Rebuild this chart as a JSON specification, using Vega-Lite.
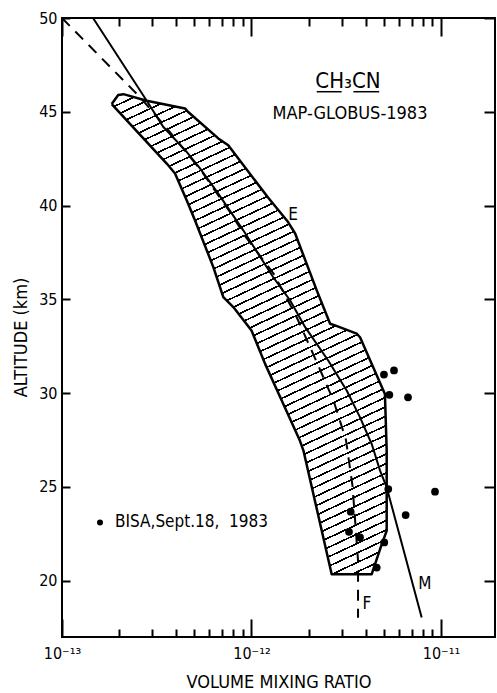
{
"$schema": "https://vega.github.io/schema/vega-lite/v6.json",
"width": 433,
"height": 619,
"autosize": "none",
"padding": {"left": 62, "top": 18, "right": 2, "bottom": 56},
"background": "white",
"config": {"view": {"stroke": "black", "strokeWidth": 2}},
"datasets": {
"band": [
{"order":1,"vmr":1.83e-13,"alt":45.41},{"order":2,"vmr":1.98e-13,"alt":45.89},{"order":3,"vmr":2.11e-13,"alt":45.94},{"order":4,"vmr":2.80e-13,"alt":45.59},{"order":5,"vmr":4.46e-13,"alt":45.18},{"order":6,"vmr":4.62e-13,"alt":45.00},{"order":7,"vmr":6.68e-13,"alt":43.58},{"order":8,"vmr":7.54e-13,"alt":43.22},{"order":9,"vmr":1.22e-12,"alt":40.44},{"order":10,"vmr":1.56e-12,"alt":39.12},{"order":11,"vmr":1.70e-12,"alt":38.51},{"order":12,"vmr":2.21e-12,"alt":35.48},{"order":13,"vmr":2.60e-12,"alt":33.70},{"order":14,"vmr":2.76e-12,"alt":33.61},{"order":15,"vmr":3.59e-12,"alt":33.17},{"order":16,"vmr":3.74e-12,"alt":32.98},{"order":17,"vmr":5.06e-12,"alt":29.96},{"order":18,"vmr":5.17e-12,"alt":26.94},{"order":19,"vmr":5.17e-12,"alt":22.66},{"order":20,"vmr":4.87e-12,"alt":21.95},{"order":21,"vmr":4.31e-12,"alt":20.35},{"order":22,"vmr":2.65e-12,"alt":20.35},{"order":23,"vmr":1.88e-12,"alt":26.94},{"order":24,"vmr":1.80e-12,"alt":27.47},{"order":25,"vmr":1.47e-12,"alt":29.43},{"order":26,"vmr":1.18e-12,"alt":31.56},{"order":27,"vmr":1.00e-12,"alt":33.34},{"order":28,"vmr":8.02e-13,"alt":34.59},{"order":29,"vmr":7.10e-13,"alt":35.12},{"order":30,"vmr":6.29e-13,"alt":36.72},{"order":31,"vmr":5.03e-13,"alt":39.22},{"order":32,"vmr":4.55e-13,"alt":40.28},{"order":33,"vmr":3.95e-13,"alt":41.71},{"order":34,"vmr":3.57e-13,"alt":42.24},{"order":35,"vmr":1.83e-13,"alt":45.41}
],
"model": [
{"order":1,"vmr":1.458e-13,"alt":50},{"order":2,"vmr":2.80e-13,"alt":45.59},{"order":3,"vmr":3.42e-13,"alt":44.20},{"order":4,"vmr":4.55e-13,"alt":42.86},{"order":5,"vmr":5.35e-13,"alt":41.98},{"order":6,"vmr":6.68e-13,"alt":40.64},{"order":7,"vmr":9.05e-13,"alt":38.68},{"order":8,"vmr":1.30e-12,"alt":36.19},{"order":9,"vmr":1.60e-12,"alt":34.94},{"order":10,"vmr":1.92e-12,"alt":33.52},{"order":11,"vmr":2.54e-12,"alt":31.74},{"order":12,"vmr":3.18e-12,"alt":30.14},{"order":13,"vmr":3.74e-12,"alt":28.71},{"order":14,"vmr":4.31e-12,"alt":27.29},{"order":15,"vmr":4.77e-12,"alt":25.87},{"order":16,"vmr":5.17e-12,"alt":24.98},{"order":17,"vmr":7.91e-12,"alt":18.04}
],
"fit": [
{"order":1,"vmr":1.0e-13,"alt":50},{"order":2,"vmr":2.58e-13,"alt":45.78},{"order":3,"vmr":3.57e-13,"alt":44.13},{"order":4,"vmr":5.45e-13,"alt":41.83},{"order":5,"vmr":7.84e-13,"alt":39.54},{"order":6,"vmr":9.19e-13,"alt":38.41},{"order":7,"vmr":1.31e-12,"alt":36.36},{"order":8,"vmr":1.73e-12,"alt":34.06},{"order":9,"vmr":2.18e-12,"alt":31.79},{"order":10,"vmr":2.71e-12,"alt":29.60},{"order":11,"vmr":3.15e-12,"alt":27.52},{"order":12,"vmr":3.41e-12,"alt":25.09},{"order":13,"vmr":3.56e-12,"alt":22.61},{"order":14,"vmr":3.65e-12,"alt":21.06},{"order":15,"vmr":3.65e-12,"alt":18.02}
],
"bisa": [
{"vmr":5.00e-12,"alt":30.99},{"vmr":5.65e-12,"alt":31.21},{"vmr":5.34e-12,"alt":29.91},{"vmr":6.70e-12,"alt":29.78},{"vmr":5.27e-12,"alt":24.89},{"vmr":9.30e-12,"alt":24.75},{"vmr":6.51e-12,"alt":23.50},{"vmr":3.34e-12,"alt":23.68},{"vmr":3.27e-12,"alt":22.61},{"vmr":3.74e-12,"alt":22.31},{"vmr":5.02e-12,"alt":22.04},{"vmr":4.58e-12,"alt":20.70}
],
"legenddot": [{"vmr":1.587e-13,"alt":23.11}],
"labels": [
{"kind":"title","text":"CH₃CN","vmr":3.23e-12,"alt":46.64},
{"kind":"subtitle","text":"MAP-GLOBUS-1983","vmr":3.31e-12,"alt":44.87},
{"kind":"curve","text":"E","vmr":1.66e-12,"alt":39.48},
{"kind":"curve","text":"M","vmr":8.23e-12,"alt":19.82},
{"kind":"curve","text":"F","vmr":4.06e-12,"alt":18.75},
{"kind":"legend","text":"BISA,Sept.18,\u00a0 1983","vmr":1.905e-13,"alt":23.11}
],
"underline": [{"vmr":2.21e-12,"vmr2":2.99e-12,"alt":46.07},{"vmr":3.45e-12,"vmr2":4.72e-12,"alt":46.07}]
},
"layer": [
{
"data": {"name": "band"},
"mark": {"type": "line", "stroke": "black", "strokeWidth": 2.5, "strokeJoin": "round",
"fill": {"gradient": "linear", "x1": 0, "y1": 0, "x2": 0.3163, "y2": 1.1828, "stops": [
{"offset":0,"color":"#fff"},
{"offset":0.005,"color":"#fff"},{"offset":0.005,"color":"#000"},{"offset":0.008,"color":"#000"},{"offset":0.008,"color":"#fff"},
{"offset":0.0206,"color":"#fff"},{"offset":0.0206,"color":"#000"},{"offset":0.0236,"color":"#000"},{"offset":0.0236,"color":"#fff"},
{"offset":0.0362,"color":"#fff"},{"offset":0.0362,"color":"#000"},{"offset":0.0392,"color":"#000"},{"offset":0.0392,"color":"#fff"},
{"offset":0.0518,"color":"#fff"},{"offset":0.0518,"color":"#000"},{"offset":0.0548,"color":"#000"},{"offset":0.0548,"color":"#fff"},
{"offset":0.0674,"color":"#fff"},{"offset":0.0674,"color":"#000"},{"offset":0.0704,"color":"#000"},{"offset":0.0704,"color":"#fff"},
{"offset":0.083,"color":"#fff"},{"offset":0.083,"color":"#000"},{"offset":0.086,"color":"#000"},{"offset":0.086,"color":"#fff"},
{"offset":0.0986,"color":"#fff"},{"offset":0.0986,"color":"#000"},{"offset":0.1016,"color":"#000"},{"offset":0.1016,"color":"#fff"},
{"offset":0.1142,"color":"#fff"},{"offset":0.1142,"color":"#000"},{"offset":0.1172,"color":"#000"},{"offset":0.1172,"color":"#fff"},
{"offset":0.1298,"color":"#fff"},{"offset":0.1298,"color":"#000"},{"offset":0.1328,"color":"#000"},{"offset":0.1328,"color":"#fff"},
{"offset":0.1454,"color":"#fff"},{"offset":0.1454,"color":"#000"},{"offset":0.1484,"color":"#000"},{"offset":0.1484,"color":"#fff"},
{"offset":0.161,"color":"#fff"},{"offset":0.161,"color":"#000"},{"offset":0.164,"color":"#000"},{"offset":0.164,"color":"#fff"},
{"offset":0.1766,"color":"#fff"},{"offset":0.1766,"color":"#000"},{"offset":0.1796,"color":"#000"},{"offset":0.1796,"color":"#fff"},
{"offset":0.1922,"color":"#fff"},{"offset":0.1922,"color":"#000"},{"offset":0.1952,"color":"#000"},{"offset":0.1952,"color":"#fff"},
{"offset":0.2078,"color":"#fff"},{"offset":0.2078,"color":"#000"},{"offset":0.2108,"color":"#000"},{"offset":0.2108,"color":"#fff"},
{"offset":0.2234,"color":"#fff"},{"offset":0.2234,"color":"#000"},{"offset":0.2264,"color":"#000"},{"offset":0.2264,"color":"#fff"},
{"offset":0.239,"color":"#fff"},{"offset":0.239,"color":"#000"},{"offset":0.242,"color":"#000"},{"offset":0.242,"color":"#fff"},
{"offset":0.2546,"color":"#fff"},{"offset":0.2546,"color":"#000"},{"offset":0.2576,"color":"#000"},{"offset":0.2576,"color":"#fff"},
{"offset":0.2702,"color":"#fff"},{"offset":0.2702,"color":"#000"},{"offset":0.2732,"color":"#000"},{"offset":0.2732,"color":"#fff"},
{"offset":0.2858,"color":"#fff"},{"offset":0.2858,"color":"#000"},{"offset":0.2888,"color":"#000"},{"offset":0.2888,"color":"#fff"},
{"offset":0.3014,"color":"#fff"},{"offset":0.3014,"color":"#000"},{"offset":0.3044,"color":"#000"},{"offset":0.3044,"color":"#fff"},
{"offset":0.317,"color":"#fff"},{"offset":0.317,"color":"#000"},{"offset":0.32,"color":"#000"},{"offset":0.32,"color":"#fff"},
{"offset":0.3326,"color":"#fff"},{"offset":0.3326,"color":"#000"},{"offset":0.3356,"color":"#000"},{"offset":0.3356,"color":"#fff"},
{"offset":0.3482,"color":"#fff"},{"offset":0.3482,"color":"#000"},{"offset":0.3512,"color":"#000"},{"offset":0.3512,"color":"#fff"},
{"offset":0.3638,"color":"#fff"},{"offset":0.3638,"color":"#000"},{"offset":0.3668,"color":"#000"},{"offset":0.3668,"color":"#fff"},
{"offset":0.3794,"color":"#fff"},{"offset":0.3794,"color":"#000"},{"offset":0.3824,"color":"#000"},{"offset":0.3824,"color":"#fff"},
{"offset":0.395,"color":"#fff"},{"offset":0.395,"color":"#000"},{"offset":0.398,"color":"#000"},{"offset":0.398,"color":"#fff"},
{"offset":0.4106,"color":"#fff"},{"offset":0.4106,"color":"#000"},{"offset":0.4136,"color":"#000"},{"offset":0.4136,"color":"#fff"},
{"offset":0.4262,"color":"#fff"},{"offset":0.4262,"color":"#000"},{"offset":0.4292,"color":"#000"},{"offset":0.4292,"color":"#fff"},
{"offset":0.4418,"color":"#fff"},{"offset":0.4418,"color":"#000"},{"offset":0.4448,"color":"#000"},{"offset":0.4448,"color":"#fff"},
{"offset":0.4574,"color":"#fff"},{"offset":0.4574,"color":"#000"},{"offset":0.4604,"color":"#000"},{"offset":0.4604,"color":"#fff"},
{"offset":0.473,"color":"#fff"},{"offset":0.473,"color":"#000"},{"offset":0.476,"color":"#000"},{"offset":0.476,"color":"#fff"},
{"offset":0.4886,"color":"#fff"},{"offset":0.4886,"color":"#000"},{"offset":0.4916,"color":"#000"},{"offset":0.4916,"color":"#fff"},
{"offset":0.5042,"color":"#fff"},{"offset":0.5042,"color":"#000"},{"offset":0.5072,"color":"#000"},{"offset":0.5072,"color":"#fff"},
{"offset":0.5198,"color":"#fff"},{"offset":0.5198,"color":"#000"},{"offset":0.5228,"color":"#000"},{"offset":0.5228,"color":"#fff"},
{"offset":0.5354,"color":"#fff"},{"offset":0.5354,"color":"#000"},{"offset":0.5384,"color":"#000"},{"offset":0.5384,"color":"#fff"},
{"offset":0.551,"color":"#fff"},{"offset":0.551,"color":"#000"},{"offset":0.554,"color":"#000"},{"offset":0.554,"color":"#fff"},
{"offset":0.5666,"color":"#fff"},{"offset":0.5666,"color":"#000"},{"offset":0.5696,"color":"#000"},{"offset":0.5696,"color":"#fff"},
{"offset":0.5822,"color":"#fff"},{"offset":0.5822,"color":"#000"},{"offset":0.5852,"color":"#000"},{"offset":0.5852,"color":"#fff"},
{"offset":0.5978,"color":"#fff"},{"offset":0.5978,"color":"#000"},{"offset":0.6008,"color":"#000"},{"offset":0.6008,"color":"#fff"},
{"offset":0.6134,"color":"#fff"},{"offset":0.6134,"color":"#000"},{"offset":0.6164,"color":"#000"},{"offset":0.6164,"color":"#fff"},
{"offset":0.629,"color":"#fff"},{"offset":0.629,"color":"#000"},{"offset":0.632,"color":"#000"},{"offset":0.632,"color":"#fff"},
{"offset":0.6446,"color":"#fff"},{"offset":0.6446,"color":"#000"},{"offset":0.6476,"color":"#000"},{"offset":0.6476,"color":"#fff"},
{"offset":0.6602,"color":"#fff"},{"offset":0.6602,"color":"#000"},{"offset":0.6632,"color":"#000"},{"offset":0.6632,"color":"#fff"},
{"offset":0.6758,"color":"#fff"},{"offset":0.6758,"color":"#000"},{"offset":0.6788,"color":"#000"},{"offset":0.6788,"color":"#fff"},
{"offset":0.6914,"color":"#fff"},{"offset":0.6914,"color":"#000"},{"offset":0.6944,"color":"#000"},{"offset":0.6944,"color":"#fff"},
{"offset":0.707,"color":"#fff"},{"offset":0.707,"color":"#000"},{"offset":0.71,"color":"#000"},{"offset":0.71,"color":"#fff"},
{"offset":0.7226,"color":"#fff"},{"offset":0.7226,"color":"#000"},{"offset":0.7256,"color":"#000"},{"offset":0.7256,"color":"#fff"},
{"offset":0.7382,"color":"#fff"},{"offset":0.7382,"color":"#000"},{"offset":0.7412,"color":"#000"},{"offset":0.7412,"color":"#fff"},
{"offset":0.7538,"color":"#fff"},{"offset":0.7538,"color":"#000"},{"offset":0.7568,"color":"#000"},{"offset":0.7568,"color":"#fff"},
{"offset":0.7694,"color":"#fff"},{"offset":0.7694,"color":"#000"},{"offset":0.7724,"color":"#000"},{"offset":0.7724,"color":"#fff"},
{"offset":0.785,"color":"#fff"},{"offset":0.785,"color":"#000"},{"offset":0.788,"color":"#000"},{"offset":0.788,"color":"#fff"},
{"offset":0.8006,"color":"#fff"},{"offset":0.8006,"color":"#000"},{"offset":0.8036,"color":"#000"},{"offset":0.8036,"color":"#fff"},
{"offset":0.8162,"color":"#fff"},{"offset":0.8162,"color":"#000"},{"offset":0.8192,"color":"#000"},{"offset":0.8192,"color":"#fff"},
{"offset":0.8318,"color":"#fff"},{"offset":0.8318,"color":"#000"},{"offset":0.8348,"color":"#000"},{"offset":0.8348,"color":"#fff"},
{"offset":0.8474,"color":"#fff"},{"offset":0.8474,"color":"#000"},{"offset":0.8504,"color":"#000"},{"offset":0.8504,"color":"#fff"},
{"offset":0.863,"color":"#fff"},{"offset":0.863,"color":"#000"},{"offset":0.866,"color":"#000"},{"offset":0.866,"color":"#fff"},
{"offset":0.8786,"color":"#fff"},{"offset":0.8786,"color":"#000"},{"offset":0.8816,"color":"#000"},{"offset":0.8816,"color":"#fff"},
{"offset":0.8942,"color":"#fff"},{"offset":0.8942,"color":"#000"},{"offset":0.8972,"color":"#000"},{"offset":0.8972,"color":"#fff"},
{"offset":0.9098,"color":"#fff"},{"offset":0.9098,"color":"#000"},{"offset":0.9128,"color":"#000"},{"offset":0.9128,"color":"#fff"},
{"offset":0.9254,"color":"#fff"},{"offset":0.9254,"color":"#000"},{"offset":0.9284,"color":"#000"},{"offset":0.9284,"color":"#fff"},
{"offset":0.941,"color":"#fff"},{"offset":0.941,"color":"#000"},{"offset":0.944,"color":"#000"},{"offset":0.944,"color":"#fff"},
{"offset":0.9566,"color":"#fff"},{"offset":0.9566,"color":"#000"},{"offset":0.9596,"color":"#000"},{"offset":0.9596,"color":"#fff"},
{"offset":0.9722,"color":"#fff"},{"offset":0.9722,"color":"#000"},{"offset":0.9752,"color":"#000"},{"offset":0.9752,"color":"#fff"},
{"offset":0.9878,"color":"#fff"},{"offset":0.9878,"color":"#000"},{"offset":0.9908,"color":"#000"},{"offset":0.9908,"color":"#fff"},
{"offset":1,"color":"#fff"}
]}},
"encoding": {
"x": {"field": "vmr", "type": "quantitative", "scale": {"type": "log", "domain": [1e-13, 1.928e-11], "nice": false},
"axis": {"orient": "bottom", "ticks": false, "tickSize": 0, "domain": false, "values": [1e-13,1e-12,1e-11],
"labelExpr": "datum.value == 1e-13 ? '10⁻¹³' : (datum.value == 1e-12 ? '10⁻¹²' : '10⁻¹¹')",
"labelFlush": false, "labelOverlap": false, "grid": false,
"labelFont": "DejaVu Sans Condensed, DejaVu Sans, sans-serif", "labelFontSize": 16, "labelColor": "black", "labelPadding": 8,
"title": "VOLUME MIXING RATIO", "titleFont": "DejaVu Sans Condensed, DejaVu Sans, sans-serif", "titleFontSize": 18, "titleFontWeight": "normal", "titleColor": "black", "titleY": 45, "titleBaseline": "middle"}},
"y": {"field": "alt", "type": "quantitative", "scale": {"domain": [17, 50], "nice": false, "zero": false},
"axis": {"orient": "left", "ticks": false, "tickSize": 0, "domain": false, "values": [20,25,30,35,40,45,50], "labelFlush": false, "grid": false,
"labelFont": "DejaVu Sans Condensed, DejaVu Sans, sans-serif", "labelFontSize": 16, "labelColor": "black", "labelPadding": 5,
"title": "ALTITUDE (km)", "titleFont": "DejaVu Sans Condensed, DejaVu Sans, sans-serif", "titleFontSize": 18, "titleFontWeight": "normal", "titleColor": "black", "titlePadding": 8, "titleY": 319}},
"order": {"field": "order", "type": "quantitative"}
}
},
{
"data": {"name": "model"},
"mark": {"type": "line", "color": "black", "strokeWidth": 2},
"encoding": {
"x": {"field": "vmr", "type": "quantitative", "scale": {"type": "log", "domain": [1e-13, 1.928e-11], "nice": false},
"axis": {"orient": "top", "offset": -619, "values": [1e-13,2e-13,3e-13,4e-13,5e-13,6e-13,7e-13,8e-13,9e-13,1e-12,2e-12,3e-12,4e-12,5e-12,6e-12,7e-12,8e-12,9e-12,1e-11],
"labels": false, "domain": false, "grid": false, "title": null, "ticks": true,
"tickSize": {"condition": {"test": "datum.value == 1e-13 || datum.value == 1e-12 || datum.value == 1e-11", "value": 18}, "value": 8},
"tickWidth": 2, "tickColor": "black"}},
"y": {"field": "alt", "type": "quantitative", "scale": {"domain": [17, 50], "nice": false, "zero": false},
"axis": {"orient": "right", "offset": -433, "values": [20,25,30,35,40,45,50], "labels": false, "domain": false, "grid": false, "title": null, "ticks": true,
"tickSize": 8, "tickWidth": 2, "tickColor": "black"}},
"order": {"field": "order", "type": "quantitative"}
}
},
{
"data": {"name": "fit"},
"mark": {"type": "line", "color": "black", "strokeWidth": 2, "strokeDash": [11, 8]},
"encoding": {
"x": {"field": "vmr", "type": "quantitative", "scale": {"type": "log", "domain": [1e-13, 1.928e-11], "nice": false},
"axis": {"orient": "bottom", "offset": -619, "values": [1e-13,2e-13,3e-13,4e-13,5e-13,6e-13,7e-13,8e-13,9e-13,1e-12,2e-12,3e-12,4e-12,5e-12,6e-12,7e-12,8e-12,9e-12,1e-11],
"labels": false, "domain": false, "grid": false, "title": null, "ticks": true,
"tickSize": {"condition": {"test": "datum.value == 1e-13 || datum.value == 1e-12 || datum.value == 1e-11", "value": 18}, "value": 8},
"tickWidth": 2, "tickColor": "black"}},
"y": {"field": "alt", "type": "quantitative", "scale": {"domain": [17, 50], "nice": false, "zero": false},
"axis": {"orient": "left", "offset": -433, "values": [20,25,30,35,40,45,50], "labels": false, "domain": false, "grid": false, "title": null, "ticks": true,
"tickSize": 11, "tickWidth": 2, "tickColor": "black"}},
"order": {"field": "order", "type": "quantitative"}
}
},
{
"data": {"name": "bisa"},
"mark": {"type": "point", "filled": true, "color": "black", "opacity": 1, "size": 60},
"encoding": {
"x": {"field": "vmr", "type": "quantitative", "scale": {"type": "log", "domain": [1e-13, 1.928e-11], "nice": false}, "axis": null},
"y": {"field": "alt", "type": "quantitative", "scale": {"domain": [17, 50], "nice": false, "zero": false}, "axis": null}
}
},
{
"data": {"name": "legenddot"},
"mark": {"type": "point", "filled": true, "color": "black", "opacity": 1, "size": 36},
"encoding": {
"x": {"field": "vmr", "type": "quantitative", "scale": {"type": "log", "domain": [1e-13, 1.928e-11], "nice": false}, "axis": null},
"y": {"field": "alt", "type": "quantitative", "scale": {"domain": [17, 50], "nice": false, "zero": false}, "axis": null}
}
},
{
"data": {"name": "underline"},
"mark": {"type": "rule", "color": "black", "strokeWidth": 1.5},
"encoding": {
"x": {"field": "vmr", "type": "quantitative", "scale": {"type": "log", "domain": [1e-13, 1.928e-11], "nice": false}, "axis": null},
"x2": {"field": "vmr2"},
"y": {"field": "alt", "type": "quantitative", "scale": {"domain": [17, 50], "nice": false, "zero": false}, "axis": null}
}
},
{
"data": {"name": "labels"},
"transform": [{"filter": "datum.kind == 'title'"}],
"mark": {"type": "text", "font": "DejaVu Sans Condensed, DejaVu Sans, sans-serif", "fontSize": 22, "color": "black", "align": "center", "baseline": "middle"},
"encoding": {
"x": {"field": "vmr", "type": "quantitative", "scale": {"type": "log", "domain": [1e-13, 1.928e-11], "nice": false}, "axis": null},
"y": {"field": "alt", "type": "quantitative", "scale": {"domain": [17, 50], "nice": false, "zero": false}, "axis": null},
"text": {"field": "text"}
}
},
{
"data": {"name": "labels"},
"transform": [{"filter": "datum.kind == 'subtitle'"}],
"mark": {"type": "text", "font": "DejaVu Sans Condensed, DejaVu Sans, sans-serif", "fontSize": 18, "color": "black", "align": "center", "baseline": "middle"},
"encoding": {
"x": {"field": "vmr", "type": "quantitative", "scale": {"type": "log", "domain": [1e-13, 1.928e-11], "nice": false}, "axis": null},
"y": {"field": "alt", "type": "quantitative", "scale": {"domain": [17, 50], "nice": false, "zero": false}, "axis": null},
"text": {"field": "text"}
}
},
{
"data": {"name": "labels"},
"transform": [{"filter": "datum.kind == 'curve'"}],
"mark": {"type": "text", "font": "DejaVu Sans Condensed, DejaVu Sans, sans-serif", "fontSize": 17, "color": "black", "align": "center", "baseline": "middle"},
"encoding": {
"x": {"field": "vmr", "type": "quantitative", "scale": {"type": "log", "domain": [1e-13, 1.928e-11], "nice": false}, "axis": null},
"y": {"field": "alt", "type": "quantitative", "scale": {"domain": [17, 50], "nice": false, "zero": false}, "axis": null},
"text": {"field": "text"}
}
},
{
"data": {"name": "labels"},
"transform": [{"filter": "datum.kind == 'legend'"}],
"mark": {"type": "text", "font": "DejaVu Sans Condensed, DejaVu Sans, sans-serif", "fontSize": 17, "color": "black", "align": "left", "baseline": "middle"},
"encoding": {
"x": {"field": "vmr", "type": "quantitative", "scale": {"type": "log", "domain": [1e-13, 1.928e-11], "nice": false}, "axis": null},
"y": {"field": "alt", "type": "quantitative", "scale": {"domain": [17, 50], "nice": false, "zero": false}, "axis": null},
"text": {"field": "text"}
}
}
],
"resolve": {"axis": {"x": "independent", "y": "independent"}}
}
